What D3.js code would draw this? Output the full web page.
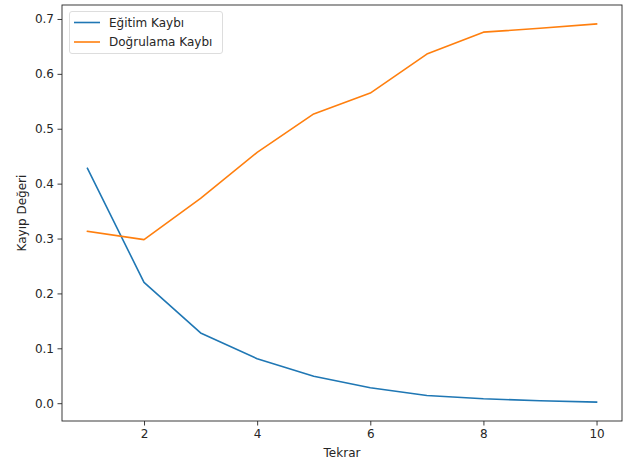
<!DOCTYPE html>
<html><head><meta charset="utf-8">
<script src="https://cdn.jsdelivr.net/npm/d3@7"></script>
<style>body{margin:0;background:#fff}svg{display:block;font-family:"DejaVu Sans",sans-serif}</style>
</head><body>
<script>
const epochs = [1,2,3,4,5,6,7,8,9,10];
const trainLoss = [0.428,0.220,0.128,0.081,0.049,0.028,0.014,0.008,0.0045,0.002];
const valLoss = [0.313,0.298,0.373,0.457,0.527,0.565,0.636,0.676,0.683,0.691];
const seriesNames = ["Eğitim Kaybı","Doğrulama Kaybı"];
const colors = ["#1f77b4","#ff7f0e"];
const xTicks = [2,4,6,8,10];
const yTicks = [0.0,0.1,0.2,0.3,0.4,0.5,0.6,0.7];

const W=628,H=464, L=62,R=622,T=5,B=421;
const svg=d3.select("body").append("svg").attr("width",W).attr("height",H);
const x=d3.scaleLinear().domain([0.55,10.45]).range([L,R]);
const allV=trainLoss.concat(valLoss);
const mn=d3.min(allV),mx=d3.max(allV),m=(mx-mn)*0.05;
const y=d3.scaleLinear().domain([mn-m,mx+m]).range([B,T]);

const fs=12;
const gx=svg.append("g").attr("transform",`translate(0,${B})`)
 .call(d3.axisBottom(x).tickValues(xTicks).tickFormat(d3.format("d")).tickSize(4.5).tickPadding(3.5));
const gy=svg.append("g").attr("transform",`translate(${L},0)`)
 .call(d3.axisLeft(y).tickValues(yTicks).tickFormat(d3.format(".1f")).tickSize(4.5).tickPadding(3.5));
[gx,gy].forEach(g=>{g.select(".domain").remove();g.selectAll("text").attr("font-size",fs).attr("fill","#262626").attr("font-family","DejaVu Sans");g.selectAll("line").attr("stroke","#262626").attr("stroke-width",0.9);});

const line=d3.line().x((d,i)=>x(epochs[i])).y(d=>y(d));
[trainLoss,valLoss].forEach((s,k)=>{
 svg.append("path").datum(s).attr("d",line).attr("fill","none").attr("stroke",colors[k]).attr("stroke-width",1.6).attr("stroke-linejoin","round").attr("stroke-linecap","square");
});
svg.append("rect").attr("x",L).attr("y",T).attr("width",R-L).attr("height",B-T).attr("fill","none").attr("stroke","#262626").attr("stroke-width",0.9);

svg.append("text").attr("x",(L+R)/2).attr("y",457).attr("text-anchor","middle").attr("font-size",fs).attr("fill","#262626").text("Tekrar");
svg.append("text").attr("transform",`translate(26,${(T+B)/2}) rotate(-90)`).attr("text-anchor","middle").attr("font-size",fs).attr("fill","#262626").text("Kayıp Değeri");

const lg=svg.append("g");
lg.append("rect").attr("x",69.5).attr("y",11.5).attr("width",153).attr("height",42).attr("rx",2.5).attr("fill","#fff").attr("fill-opacity",0.8).attr("stroke","#d9d9d9").attr("stroke-width",0.9);
seriesNames.forEach((n,k)=>{
 const yy=22.5+k*19.5;
 lg.append("line").attr("x1",74).attr("x2",100).attr("y1",yy).attr("y2",yy).attr("stroke",colors[k]).attr("stroke-width",1.6);
 lg.append("text").attr("x",109).attr("y",yy+4.3).attr("font-size",fs).attr("fill","#262626").text(n);
});
</script>
</body></html>
